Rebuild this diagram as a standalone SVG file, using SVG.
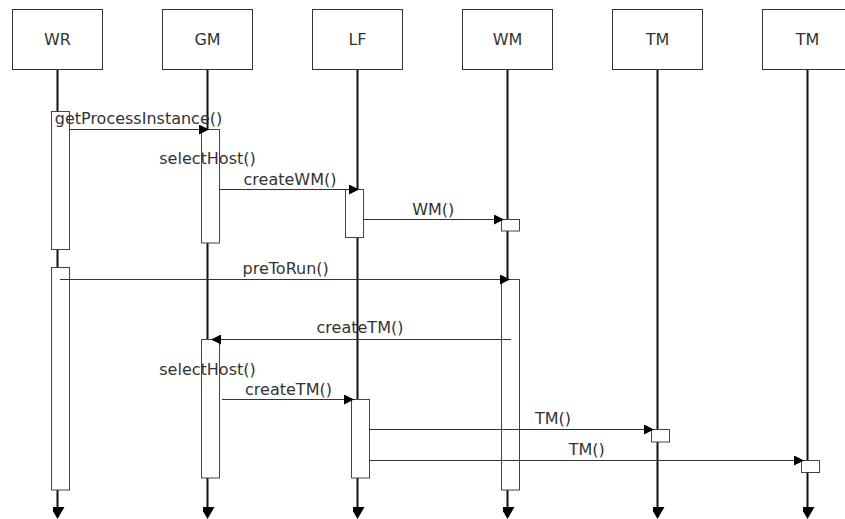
<svg xmlns="http://www.w3.org/2000/svg" width="845" height="519" viewBox="0 0 845 519">
<style>
  .box { fill: #fff; stroke: #333; stroke-width: 1; }
  .act { fill: #fff; stroke: #444; stroke-width: 1; }
  .life { stroke: #111; stroke-width: 2; fill: none; }
  .msg { stroke: #333; stroke-width: 1; fill: none; marker-end: url(#arr); }
  text { font-family: "DejaVu Sans", "Liberation Sans", sans-serif; font-size: 16px; fill: #333; text-anchor: middle; }
</style>
<defs>
  <marker id="arr" markerUnits="userSpaceOnUse" markerWidth="10" markerHeight="10" refX="10" refY="5" orient="auto">
    <path d="M0,0 L10,5 L0,10 z" fill="#000"/>
  </marker>
  <marker id="lifeEnd" markerUnits="userSpaceOnUse" markerWidth="14" markerHeight="12" refX="0" refY="7" orient="auto">
    <path d="M0,0 L12,7 L0,14 z" fill="#000"/>
  </marker>
</defs>
<rect width="845" height="519" fill="#fff"/>

<g id="lifelines">
  <line class="life" x1="57.5" y1="69" x2="57.5" y2="507" marker-end="url(#lifeEnd)"/>
  <line class="life" x1="207.5" y1="69" x2="207.5" y2="507" marker-end="url(#lifeEnd)"/>
  <line class="life" x1="357.5" y1="69" x2="357.5" y2="507" marker-end="url(#lifeEnd)"/>
  <line class="life" x1="507.5" y1="69" x2="507.5" y2="507" marker-end="url(#lifeEnd)"/>
  <line class="life" x1="657.5" y1="69" x2="657.5" y2="507" marker-end="url(#lifeEnd)"/>
  <line class="life" x1="807.5" y1="69" x2="807.5" y2="507" marker-end="url(#lifeEnd)"/>
</g>

<g id="WR">
  <rect class="box" x="12.5" y="9.5" width="90" height="60"/>
  <text x="57.5" y="45">WR</text>
  <rect class="act" x="51.5" y="111.5" width="18" height="138"/>
  <rect class="act" x="51.5" y="267.5" width="18" height="222.5"/>
</g>
<g id="GM">
  <rect class="box" x="162.5" y="9.5" width="90" height="60"/>
  <text x="207.5" y="45">GM</text>
  <rect class="act" x="201.5" y="129.5" width="18" height="113.5"/>
  <rect class="act" x="201.5" y="339.5" width="18" height="138.5"/>
</g>
<g id="LF">
  <rect class="box" x="312.5" y="9.5" width="90" height="60"/>
  <text x="357.5" y="45">LF</text>
  <rect class="act" x="345.5" y="189.5" width="18" height="48"/>
  <rect class="act" x="351.5" y="399.5" width="18" height="78.5"/>
</g>
<g id="WM">
  <rect class="box" x="462.5" y="9.5" width="90" height="60"/>
  <text x="507.5" y="45">WM</text>
  <rect class="act" x="501.5" y="219.5" width="18" height="11.5"/>
  <rect class="act" x="501.5" y="279.5" width="18" height="210.5"/>
</g>
<g id="TM1">
  <rect class="box" x="612.5" y="9.5" width="90" height="60"/>
  <text x="657.5" y="45">TM</text>
  <rect class="act" x="651.5" y="429.5" width="18" height="12.5"/>
</g>
<g id="TM2">
  <rect class="box" x="762.5" y="9.5" width="90" height="60"/>
  <text x="807.5" y="45">TM</text>
  <rect class="act" x="801.5" y="460.5" width="18" height="12"/>
</g>

<g id="connectors">
  <line class="msg" x1="69" y1="129.5" x2="209" y2="129.5"/>
  <line class="msg" x1="220" y1="189.5" x2="359" y2="189.5"/>
  <line class="msg" x1="363" y1="219.5" x2="504" y2="219.5"/>
  <line class="msg" x1="60" y1="279.5" x2="510" y2="279.5"/>
  <line class="msg" x1="511" y1="339.5" x2="211" y2="339.5"/>
  <line class="msg" x1="222" y1="399.5" x2="354" y2="399.5"/>
  <line class="msg" x1="369" y1="429.5" x2="654" y2="429.5"/>
  <line class="msg" x1="369" y1="460.5" x2="804" y2="460.5"/>
</g>

<g id="labels">
  <text x="138.5" y="124">getProcessInstance()</text>
  <text x="207.5" y="164">selectHost()</text>
  <text x="290" y="185">createWM()</text>
  <text x="433.3" y="215">WM()</text>
  <text x="285.7" y="274">preToRun()</text>
  <text x="360" y="333">createTM()</text>
  <text x="207.5" y="375">selectHost()</text>
  <text x="288.5" y="395">createTM()</text>
  <text x="553" y="423.5">TM()</text>
  <text x="586.7" y="455">TM()</text>
</g>
</svg>
